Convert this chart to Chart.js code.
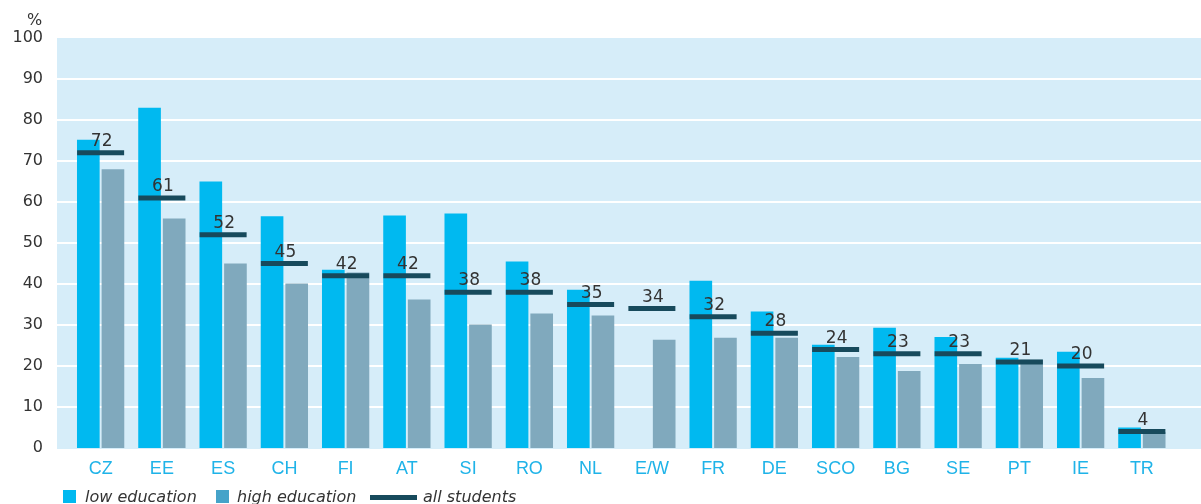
<!DOCTYPE html>
<html>
<head>
<meta charset="utf-8">
<script src="https://cdn.jsdelivr.net/npm/chart.js@4.4.1/dist/chart.umd.min.js"></script>
<style>
  html, body { margin: 0; padding: 0; background: #fff; }
  #wrap { position: relative; width: 1201px; height: 504px; }
  #wrap canvas { position: absolute; left: 0; top: 0; }
  .unit { position: absolute; left: 27px; top: 10px; font: 16px 'DejaVu Sans', sans-serif; color: #333; }
  .leg-box { position: absolute; top: 490px; width: 13px; height: 13px; }
  .leg-line { position: absolute; top: 495px; width: 47px; height: 5px; background: #174a5c; }
  .leg-text { position: absolute; top: 487px; line-height: 18px; font: italic 16px 'DejaVu Sans', sans-serif; color: #333; white-space: nowrap; }
</style>
</head>
<body>
<div id="wrap">
  <canvas id="eduChart" width="1201" height="504"></canvas>
  <div class="unit">%</div>
  <div class="leg-box" style="left:63px;background:#00b9f0"></div>
  <div class="leg-text" style="left:85px">low education</div>
  <div class="leg-box" style="left:216px;background:#45a3c9"></div>
  <div class="leg-text" style="left:237px">high education</div>
  <div class="leg-line" style="left:370px"></div>
  <div class="leg-text" style="left:423px">all students</div>
</div>
<script>
// Countries, left to right
const countries = ['CZ', 'EE', 'ES', 'CH', 'FI', 'AT', 'SI', 'RO', 'NL', 'E/W', 'FR', 'DE', 'SCO', 'BG', 'SE', 'PT', 'IE', 'TR'];

// Share (%) by parental education
const lowEducation  = [75.2, 83.0, 65.0, 56.5, 43.5, 56.7, 57.2, 45.5, 38.6, 0, 40.8, 33.3, 25.2, 29.3, 27.1, 22.0, 23.5, 5.0];
const highEducation = [68.0, 56.0, 45.0, 40.1, 42.8, 36.2, 30.1, 32.8, 32.3, 26.4, 26.9, 26.9, 22.2, 18.8, 20.5, 21.5, 17.1, 3.9];
const allStudents   = [72, 61, 52, 45, 42, 42, 38, 38, 35, 34, 32, 28, 24, 23, 23, 21, 20, 4];

const yTicks = [0, 10, 20, 30, 40, 50, 60, 70, 80, 90, 100];

const C_LOW = '#00b9f0';
const C_HIGH = '#80a9bd';
const C_ALL = '#174a5c';
const C_PLOT = '#d6edf9';

// light blue panel + white gridlines, a bit wider than the bar area
const panelBg = {
  id: 'panelBg',
  beforeDraw(chart) {
    const { ctx, scales: { y } } = chart;
    const top = y.getPixelForValue(100);
    const bottom = y.getPixelForValue(0);
    const left = 57, right = chart.width;
    ctx.save();
    ctx.fillStyle = C_PLOT;
    ctx.fillRect(left, top, right - left, bottom - top + 1);
    ctx.strokeStyle = '#ffffff';
    ctx.lineWidth = 2;
    yTicks.slice(1, -1).forEach(v => {
      const py = Math.round(y.getPixelForValue(v));
      ctx.beginPath();
      ctx.moveTo(left, py);
      ctx.lineTo(right, py);
      ctx.stroke();
    });
    ctx.restore();
  }
};

// value of the "all students" marker above each dash
const dashLabels = {
  id: 'dashLabels',
  afterDatasetsDraw(chart) {
    const { ctx } = chart;
    const meta = chart.getDatasetMeta(2);
    ctx.save();
    ctx.font = '17px "DejaVu Sans", sans-serif';
    ctx.fillStyle = '#333333';
    ctx.textAlign = 'center';
    ctx.textBaseline = 'alphabetic';
    meta.data.forEach((pt, i) => {
      ctx.fillText(String(allStudents[i]), pt.x + 1, pt.y - 7);
    });
    ctx.restore();
  }
};

new Chart(document.getElementById('eduChart'), {
  type: 'bar',
  data: {
    labels: countries,
    datasets: [
      {
        label: 'low education',
        data: lowEducation,
        backgroundColor: C_LOW,
        categoryPercentage: 0.804,
        barPercentage: 0.92,
        order: 1
      },
      {
        label: 'high education',
        data: highEducation,
        backgroundColor: C_HIGH,
        categoryPercentage: 0.804,
        barPercentage: 0.92,
        order: 1
      },
      {
        type: 'line',
        label: 'all students',
        data: allStudents,
        showLine: false,
        pointStyle: 'line',
        pointRadius: 23.5,
        pointHoverRadius: 23.5,
        pointBorderWidth: 5,
        pointBorderColor: C_ALL,
        pointBackgroundColor: C_ALL,
        order: 0
      }
    ]
  },
  options: {
    responsive: false,
    devicePixelRatio: 1,
    animation: false,
    events: [],
    layout: { padding: { top: 38, right: 12, bottom: 16, left: 0 } },
    plugins: {
      legend: { display: false },
      tooltip: { enabled: false }
    },
    scales: {
      x: {
        offset: true,
        grid: { display: false, drawTicks: false },
        border: { display: false },
        ticks: {
          color: '#1fb3e8',
          font: { family: '"Liberation Sans Narrow", "Liberation Sans", sans-serif', size: 18 },
          padding: 10,
          maxRotation: 0,
          autoSkip: false
        },
        afterFit(scale) { scale.height = 40; }
      },
      y: {
        min: 0,
        max: 100,
        grid: { display: false, drawTicks: false },
        border: { display: false },
        afterBuildTicks(scale) { scale.ticks = yTicks.map(v => ({ value: v })); },
        ticks: {
          color: '#333333',
          font: { family: '"DejaVu Sans", sans-serif', size: 16 },
          padding: 27
        },
        afterFit(scale) { scale.width = 70; }
      }
    }
  },
  plugins: [panelBg, dashLabels]
});
</script>
</body>
</html>
